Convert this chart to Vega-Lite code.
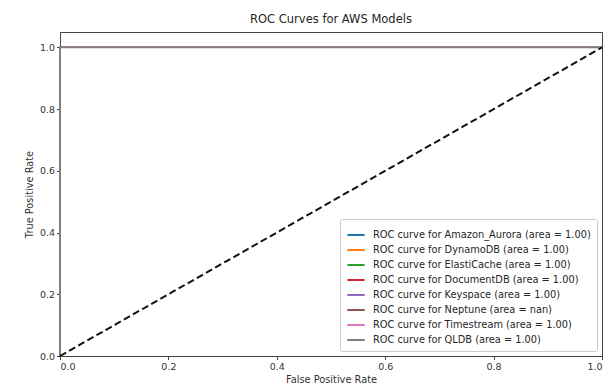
{
  "$schema": "https://vega.github.io/schema/vega-lite/v6.json",
  "width": 542,
  "height": 324,
  "autosize": {"type": "none"},
  "padding": {"left": 60, "top": 32, "right": 4, "bottom": 33},
  "background": "white",
  "config": {
    "font": "DejaVu Sans",
    "view": {"stroke": "#444", "strokeWidth": 1},
    "axis": {
      "grid": false,
      "domainColor": "#444",
      "tickColor": "#444",
      "labelColor": "#333",
      "titleColor": "#333",
      "labelFont": "DejaVu Sans",
      "titleFont": "DejaVu Sans",
      "labelFontSize": 9.5,
      "titleFontSize": 9.8,
      "titleFontWeight": "normal",
      "tickSize": 3.5,
      "labelPadding": 2
    }
  },
  "title": {
    "text": "ROC Curves for AWS Models",
    "fontSize": 11.5,
    "fontWeight": "normal",
    "color": "#262626",
    "font": "DejaVu Sans",
    "offset": 7
  },
  "layer": [
    {
      "data": {
        "values": [
          {"model": "ROC curve for Amazon_Aurora (area = 1.00)", "fpr": 0, "tpr": 0, "i": 0},
          {"model": "ROC curve for Amazon_Aurora (area = 1.00)", "fpr": 0, "tpr": 1, "i": 1},
          {"model": "ROC curve for Amazon_Aurora (area = 1.00)", "fpr": 1, "tpr": 1, "i": 2},
          {"model": "ROC curve for DynamoDB (area = 1.00)", "fpr": 0, "tpr": 0, "i": 0},
          {"model": "ROC curve for DynamoDB (area = 1.00)", "fpr": 0, "tpr": 1, "i": 1},
          {"model": "ROC curve for DynamoDB (area = 1.00)", "fpr": 1, "tpr": 1, "i": 2},
          {"model": "ROC curve for ElastiCache (area = 1.00)", "fpr": 0, "tpr": 0, "i": 0},
          {"model": "ROC curve for ElastiCache (area = 1.00)", "fpr": 0, "tpr": 1, "i": 1},
          {"model": "ROC curve for ElastiCache (area = 1.00)", "fpr": 1, "tpr": 1, "i": 2},
          {"model": "ROC curve for DocumentDB (area = 1.00)", "fpr": 0, "tpr": 0, "i": 0},
          {"model": "ROC curve for DocumentDB (area = 1.00)", "fpr": 0, "tpr": 1, "i": 1},
          {"model": "ROC curve for DocumentDB (area = 1.00)", "fpr": 1, "tpr": 1, "i": 2},
          {"model": "ROC curve for Keyspace (area = 1.00)", "fpr": 0, "tpr": 0, "i": 0},
          {"model": "ROC curve for Keyspace (area = 1.00)", "fpr": 0, "tpr": 1, "i": 1},
          {"model": "ROC curve for Keyspace (area = 1.00)", "fpr": 1, "tpr": 1, "i": 2},
          {"model": "ROC curve for Neptune (area = nan)", "fpr": null, "tpr": null, "i": 0},
          {"model": "ROC curve for Timestream (area = 1.00)", "fpr": 0, "tpr": 0, "i": 0},
          {"model": "ROC curve for Timestream (area = 1.00)", "fpr": 0, "tpr": 1, "i": 1},
          {"model": "ROC curve for Timestream (area = 1.00)", "fpr": 1, "tpr": 1, "i": 2}
        ]
      },
      "mark": {"type": "line", "strokeWidth": 1.2, "clip": false},
      "encoding": {
        "x": {
          "field": "fpr", "type": "quantitative",
          "scale": {"domain": [0, 1], "nice": false, "zero": false},
          "axis": {"values": [0, 0.2, 0.4, 0.6, 0.8, 1.0], "format": ".1f", "title": "False Positive Rate", "titlePadding": 3}
        },
        "y": {
          "field": "tpr", "type": "quantitative",
          "scale": {"domain": [0, 1.05], "nice": false, "zero": false},
          "axis": {"values": [0, 0.2, 0.4, 0.6, 0.8, 1.0], "format": ".1f", "title": "True Positive Rate", "titlePadding": 5}
        },
        "order": {"field": "i", "type": "quantitative"},
        "color": {
          "field": "model", "type": "nominal",
          "scale": {
            "domain": [
              "ROC curve for Amazon_Aurora (area = 1.00)",
              "ROC curve for DynamoDB (area = 1.00)",
              "ROC curve for ElastiCache (area = 1.00)",
              "ROC curve for DocumentDB (area = 1.00)",
              "ROC curve for Keyspace (area = 1.00)",
              "ROC curve for Neptune (area = nan)",
              "ROC curve for Timestream (area = 1.00)",
              "ROC curve for QLDB (area = 1.00)"
            ],
            "range": ["#1f77b4", "#ff7f0e", "#2ca02c", "#d62728", "#9467bd", "#8c564b", "#e377c2", "#7f7f7f"]
          },
          "legend": {
            "title": null,
            "orient": "bottom-right",
            "offset": 5,
            "padding": 6,
            "fillColor": "white",
            "strokeColor": "#ccc",
            "cornerRadius": 2,
            "symbolType": "stroke",
            "symbolSize": 300,
            "symbolStrokeWidth": 2,
            "labelFontSize": 9.8,
            "labelColor": "#262626",
            "labelLimit": 400,
            "rowPadding": -4.5,
            "labelOffset": 7
          }
        }
      }
    },
    {
      "data": {
        "values": [
          {"model": "ROC curve for QLDB (area = 1.00)", "fpr": 0, "tpr": 0, "i": 0},
          {"model": "ROC curve for QLDB (area = 1.00)", "fpr": 0, "tpr": 1, "i": 1},
          {"model": "ROC curve for QLDB (area = 1.00)", "fpr": 1, "tpr": 1, "i": 2}
        ]
      },
      "mark": {"type": "line", "strokeWidth": 1.8, "clip": false},
      "encoding": {
        "x": {"field": "fpr", "type": "quantitative"},
        "y": {"field": "tpr", "type": "quantitative"},
        "order": {"field": "i", "type": "quantitative"},
        "color": {"field": "model", "type": "nominal"}
      }
    },
    {
      "data": {"values": [{"fpr": 0, "tpr": 0}, {"fpr": 1, "tpr": 1}]},
      "mark": {"type": "line", "color": "#111", "strokeWidth": 2, "strokeDash": [7, 3.5], "clip": false},
      "encoding": {
        "x": {"field": "fpr", "type": "quantitative"},
        "y": {"field": "tpr", "type": "quantitative"}
      }
    }
  ]
}
